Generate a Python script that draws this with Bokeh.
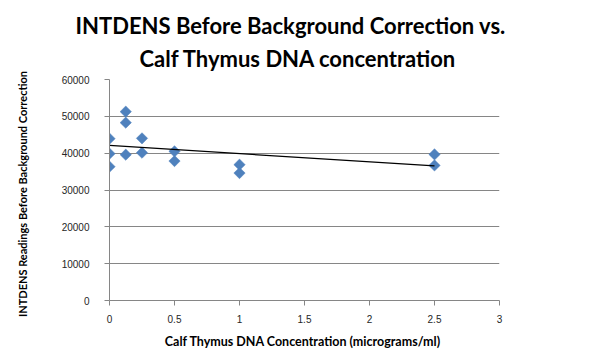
import numpy as np
from bokeh.plotting import figure
from bokeh.models import Range1d, FixedTicker, ColumnDataSource, Title
from bokeh.embed import file_html
from bokeh.resources import INLINE

# Data
conc = [0, 0, 0, 0.125, 0.125, 0.125, 0.25, 0.25, 0.5, 0.5, 1, 1, 2.5, 2.5]
intdens = [43940, 39860, 36330, 51270, 48290, 39590, 44020, 40130,
           40490, 37860, 36870, 34600, 39670, 36680]

x_ticks = [0, 0.5, 1, 1.5, 2, 2.5, 3]
x_tick_labels = ["0", "0.5", "1", "1.5", "2", "2.5", "3"]
y_ticks = [0, 10000, 20000, 30000, 40000, 50000, 60000]

title1 = "INTDENS Before Background Correction vs."
title2 = "Calf Thymus DNA concentration"
x_label = "Calf Thymus  DNA Concentration (micrograms/ml)"
y_label = "INTDENS  Readings  Before Background  Correction"

GRAY = "#868686"
BLUE = "#4F81BD"

p = figure(width=592, height=363, output_backend="svg", toolbar_location=None,
           x_range=Range1d(0, 3), y_range=Range1d(0, 60000),
           min_border_left=109, min_border_right=93,
           min_border_top=79, min_border_bottom=63)

p.title.text = title1
p.title.align = "left"
p.title.offset = -34
p.title.text_font = "Lato"
p.title.text_font_style = "bold"
p.title.text_font_size = "22px"
p.title.text_color = "#000000"
p.title.standoff = -7

p.add_layout(Title(text=title2, align="left", offset=30, text_font="Lato",
                   text_font_style="bold", text_font_size="22px",
                   text_color="#000000", standoff=15), "above")

p.outline_line_color = None
p.xgrid.grid_line_color = None
p.ygrid.grid_line_color = GRAY
p.ygrid.grid_line_width = 1

for ax in (p.xaxis, p.yaxis):
    ax.axis_line_color = GRAY
    ax.major_tick_line_color = GRAY
    ax.minor_tick_line_color = None
    ax.major_tick_in = 0
    ax.major_tick_out = 5
    ax.major_label_text_font = "Liberation Sans"
    ax.major_label_text_font_size = "10px"
    ax.major_label_text_color = "#262626"
    ax.axis_label_text_font = "Lato"
    ax.axis_label_text_font_style = "bold"
    ax.axis_label_text_color = "#000000"

p.xaxis.axis_label_text_font_size = "12.5px"
p.yaxis.axis_label_text_font_size = "11px"

p.xaxis.ticker = FixedTicker(ticks=x_ticks)
p.xaxis.major_label_overrides = {t: s for t, s in zip(x_ticks, x_tick_labels)}
p.yaxis.ticker = FixedTicker(ticks=y_ticks)
p.yaxis.formatter.use_scientific = False
p.xaxis.major_label_standoff = 9
p.yaxis.major_label_standoff = 15
p.xaxis.axis_label = x_label
p.yaxis.axis_label = y_label
p.xaxis.axis_label_standoff = 8
p.yaxis.axis_label_standoff = 30

src = ColumnDataSource(dict(x=conc, y=intdens))
p.scatter("x", "y", source=src, marker="square", angle=np.pi / 4, size=8,
          fill_color=BLUE, line_color=BLUE, line_width=0.5)

slope, intercept = np.polyfit(np.array(conc), np.array(intdens), 1)
tx = [min(conc), max(conc)]
p.line(tx, [intercept + slope * v for v in tx], line_color="#000000", line_width=1.2)

open("out.html", "w").write(file_html(p, INLINE))
